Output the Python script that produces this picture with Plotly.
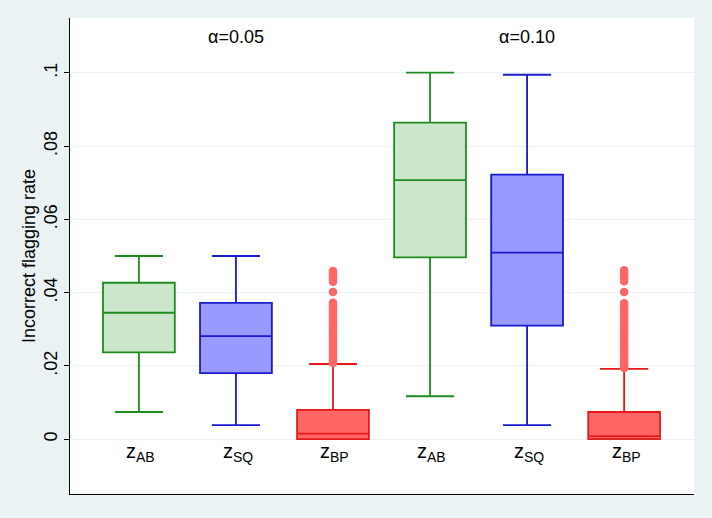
import plotly.graph_objects as go

# box positions: alpha=0.05 group (1-3), alpha=0.10 group (4-6)
positions = [1, 2, 3, 4, 5, 6]
labels = ["AB", "SQ", "BP", "AB", "SQ", "BP"]
lower = [0.0074, 0.0038, 0.0, 0.0117, 0.0038, 0.0]
q1 = [0.0237, 0.0180, 0.0, 0.0496, 0.0310, 0.0]
median = [0.0345, 0.0281, 0.0015, 0.0707, 0.0509, 0.0008]
q3 = [0.0427, 0.0372, 0.0080, 0.0864, 0.0722, 0.0074]
upper = [0.0500, 0.0500, 0.0205, 0.1001, 0.0995, 0.0192]

# outliers of the z_BP boxes
bp_out_05 = [0.0459, 0.0453, 0.0447, 0.0441, 0.0435, 0.0430, 0.0402,
             0.0372, 0.0367, 0.0362, 0.0356, 0.0351, 0.0345, 0.0340, 0.0334,
             0.0328, 0.0322, 0.0316, 0.0310, 0.0304, 0.0298, 0.0292, 0.0286,
             0.0280, 0.0274, 0.0268, 0.0262, 0.0256, 0.0250, 0.0244, 0.0238,
             0.0232, 0.0226, 0.0220, 0.0214, 0.0208]
bp_out_10 = [0.0461, 0.0455, 0.0449, 0.0443, 0.0437, 0.0431, 0.0402,
             0.0371, 0.0366, 0.0360, 0.0354, 0.0348, 0.0342, 0.0336, 0.0330,
             0.0324, 0.0318, 0.0312, 0.0306, 0.0300, 0.0294, 0.0288, 0.0282,
             0.0276, 0.0270, 0.0264, 0.0258, 0.0252, 0.0246, 0.0240, 0.0234,
             0.0228, 0.0222, 0.0216, 0.0210, 0.0204, 0.0198, 0.0194]

alpha_labels = ["α=0.05", "α=0.10"]
alpha_pos = [2, 5]

yticks = [0, 0.02, 0.04, 0.06, 0.08, 0.1]
yticktext = ["0", ".02", ".04", ".06", ".08", ".1"]

fills = {"AB": "#CCE6CC", "SQ": "#9999FF", "BP": "#FF6666"}
lines = {"AB": "#1E8C1E", "SQ": "#1A1ACC", "BP": "#E61A1A"}

fig = go.Figure()

for i, p in enumerate(positions):
    lab = labels[i]
    fig.add_trace(go.Box(
        x=[p], q1=[q1[i]], median=[median[i]], q3=[q3[i]],
        lowerfence=[lower[i]], upperfence=[upper[i]],
        width=0.74, whiskerwidth=0.67,
        fillcolor=fills[lab], line=dict(color=lines[lab], width=1.8),
        boxpoints=False, hoverinfo="skip", showlegend=False,
    ))

for p, vals in [(3, bp_out_05), (6, bp_out_10)]:
    fig.add_trace(go.Scatter(
        x=[p] * len(vals), y=vals, mode="markers",
        marker=dict(color="#FF6666", size=8.5, line=dict(width=0)),
        showlegend=False, hoverinfo="skip",
    ))

for p, lab in zip(positions, labels):
    fig.add_annotation(x=p + 0.02, y=-0.0038, xref="x", yref="y",
                       text="z<sub>%s</sub>" % lab, showarrow=False,
                       font=dict(size=20, color="black"))

for p, t in zip(alpha_pos, alpha_labels):
    fig.add_annotation(x=p, y=0.1098, xref="x", yref="y", text=t,
                       showarrow=False, font=dict(size=18, color="black"))

fig.update_layout(
    width=712, height=518,
    margin=dict(l=70, r=18, t=18, b=24),
    paper_bgcolor="#EAF2F3", plot_bgcolor="white",
    font=dict(family="Liberation Sans, Arial, sans-serif", size=17, color="black"),
)
fig.update_xaxes(range=[0.29, 6.72], showticklabels=False, ticks="",
                 showgrid=False, zeroline=False, showline=True,
                 linecolor="black", linewidth=1.2)
fig.update_yaxes(range=[-0.0150, 0.1150], tickvals=yticks, ticktext=yticktext,
                 tickangle=-90, ticks="outside", ticklen=5, tickcolor="black",
                 tickfont=dict(size=18), showgrid=True, gridcolor="#EAF2F3",
                 gridwidth=1, zeroline=False, showline=True, linecolor="black",
                 linewidth=1.2, title=dict(text="Incorrect flagging rate",
                                           font=dict(size=18), standoff=0))

# drop the browser's default page margin so the figure fills the window
fig.write_html("out.html", config={"displayModeBar": False},
               post_script="document.body.style.margin='0';")
